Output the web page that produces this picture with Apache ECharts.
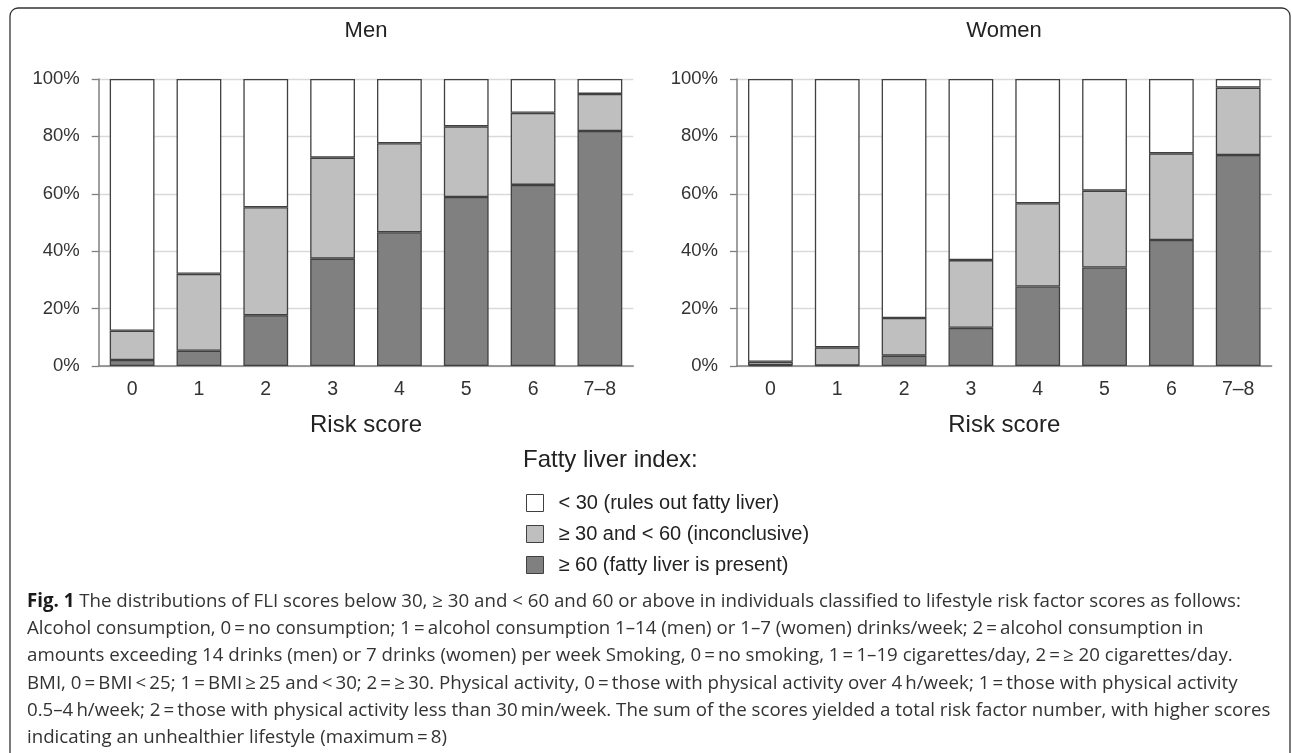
<!DOCTYPE html>
<html>
<head>
<meta charset="utf-8">
<script src="https://cdn.jsdelivr.net/npm/echarts@6/dist/echarts.min.js"></script>
<style>
html,body{margin:0;padding:0;background:#fff;}
#chart{width:1292px;height:753px;}
</style>
</head>
<body>
<div id="chart"></div>
<script>
// ---- data ----
const categories = ['0', '1', '2', '3', '4', '5', '6', '7–8'];
const yTicks = [0, 20, 40, 60, 80, 100];
const seriesNames = ['< 30 (rules out fatty liver)', '≥ 30 and < 60 (inconclusive)', '≥ 60 (fatty liver is present)'];
// Men (%)
const menAbove60 = [2.1, 5.3, 17.7, 37.4, 46.6, 58.9, 63.1, 81.9];
const men30to60 = [10.2, 26.8, 37.6, 35.2, 31.0, 24.6, 25.1, 12.9];
const menBelow30 = [87.7, 67.9, 44.7, 27.4, 22.4, 16.5, 11.8, 5.2];
// Women (%)
const womenAbove60 = [0.3, 0.2, 3.6, 13.3, 27.7, 34.3, 43.9, 73.5];
const women30to60 = [1.2, 6.3, 13.1, 23.6, 29.0, 26.8, 30.2, 23.5];
const womenBelow30 = [98.5, 93.5, 83.3, 63.1, 43.3, 38.9, 25.9, 3.0];
const panelTitles = ['Men', 'Women'];
const xAxisTitle = 'Risk score';
const legendTitle = 'Fatty liver index:';
const captionLines = [
  '{b|Fig. 1} The distributions of FLI scores below 30, ≥ 30 and < 60 and 60 or above in individuals classified to lifestyle risk factor scores as follows:',
  'Alcohol consumption, 0\u2009=\u2009no consumption; 1\u2009=\u2009alcohol consumption 1–14 (men) or 1–7 (women) drinks/week; 2\u2009=\u2009alcohol consumption in',
  'amounts exceeding 14 drinks (men) or 7 drinks (women) per week Smoking, 0\u2009=\u2009no smoking, 1\u2009=\u20091–19 cigarettes/day, 2\u2009=\u2009≥ 20 cigarettes/day.',
  'BMI, 0\u2009=\u2009BMI\u2009<\u200925; 1\u2009=\u2009BMI\u2009≥\u200925 and\u2009<\u200930; 2\u2009=\u2009≥\u200930. Physical activity, 0\u2009=\u2009those with physical activity over 4\u2009h/week; 1\u2009=\u2009those with physical activity',
  '0.5–4\u2009h/week; 2\u2009=\u2009those with physical activity less than 30\u2009min/week. The sum of the scores yielded a total risk factor number, with higher scores',
  'indicating an unhealthier lifestyle (maximum\u2009=\u20098)'
];

// ---- styles ----
const colors = ['#ffffff', '#bfbfbf', '#808080'];
const FONT = 'Liberation Sans, Arial, sans-serif';
const border = {borderColor: '#404040', borderWidth: 1.3};

const chart = echarts.init(document.getElementById('chart'), null, {renderer: 'canvas'});

const grids = [
  {left: 98.7, top: 79, width: 534.6, height: 287},
  {left: 737, top: 79, width: 534.6, height: 287}
];

const xAxes = grids.map((g, i) => ({
  type: 'category', gridIndex: i, data: categories,
  axisLine: {lineStyle: {color: '#7f7f7f', width: 1.5}},
  axisTick: {show: false},
  axisLabel: {fontFamily: FONT, fontSize: 19.5, color: '#333', margin: 14},
  name: xAxisTitle, nameLocation: 'middle', nameGap: 47,
  nameTextStyle: {fontFamily: FONT, fontSize: 24, color: '#222'}
}));

const yAxes = grids.map((g, i) => ({
  type: 'value', gridIndex: i, min: 0, max: 100, interval: 20,
  axisLine: {show: true, lineStyle: {color: '#7f7f7f', width: 1.5}},
  axisTick: {show: true, length: 7, lineStyle: {color: '#7f7f7f', width: 1.3}},
  axisLabel: {fontFamily: FONT, fontSize: 18.5, color: '#333', margin: 19, formatter: v => v + '%'},
  splitLine: {show: true, lineStyle: {color: '#d9d9d9', width: 1.3}}
}));

function mk(name, data, idx, gi) {
  return {
    name: name, type: 'bar', stack: 's' + gi, xAxisIndex: gi, yAxisIndex: gi,
    data: data, barWidth: '67%',
    itemStyle: Object.assign({color: colors[idx]}, border),
    emphasis: {disabled: true}
  };
}

const series = [
  mk(seriesNames[2], menAbove60, 2, 0),
  mk(seriesNames[1], men30to60, 1, 0),
  mk(seriesNames[0], menBelow30, 0, 0),
  mk(seriesNames[2], womenAbove60, 2, 1),
  mk(seriesNames[1], women30to60, 1, 1),
  mk(seriesNames[0], womenBelow30, 0, 1)
];

const option = {
  animation: false,
  backgroundColor: '#fff',
  grid: grids,
  xAxis: xAxes,
  yAxis: yAxes,
  series: series,
  legend: {
    data: seriesNames,
    orient: 'vertical', left: 521, top: 486,
    itemWidth: 17, itemHeight: 17, itemGap: 7,
    icon: 'rect',
    itemStyle: {borderColor: '#404040', borderWidth: 1},
    textStyle: {fontFamily: FONT, fontSize: 20, color: '#222', lineHeight: 24, padding: [0, 0, 0, 10]},
    selectedMode: false
  },
  graphic: [
    {type: 'rect', shape: {x: 10, y: 8, width: 1280, height: 760, r: 8},
     style: {fill: 'none', stroke: '#333', lineWidth: 1.3}, silent: true},
    {type: 'text', x: 366, y: 31, style: {text: panelTitles[0], font: '22px ' + FONT, fill: '#222', textAlign: 'center', textVerticalAlign: 'middle'}},
    {type: 'text', x: 1004, y: 31, style: {text: panelTitles[1], font: '22px ' + FONT, fill: '#222', textAlign: 'center', textVerticalAlign: 'middle'}},
    {type: 'text', x: 523, y: 460, style: {text: legendTitle, font: '24px ' + FONT, fill: '#222', textAlign: 'left', textVerticalAlign: 'middle'}},
    {type: 'text', x: 27, y: 588, style: {
      text: captionLines.join('\n'),
      fontFamily: 'Open Sans', fontSize: 18.7, fill: '#333', lineHeight: 27.2,
      textAlign: 'left', textVerticalAlign: 'top',
      rich: {b: {fontFamily: 'Open Sans', fontSize: 18.7, fontWeight: 'bold', fill: '#1a1a1a', lineHeight: 27.2}}
    }}
  ]
};
chart.setOption(option);
</script>
</body>
</html>
